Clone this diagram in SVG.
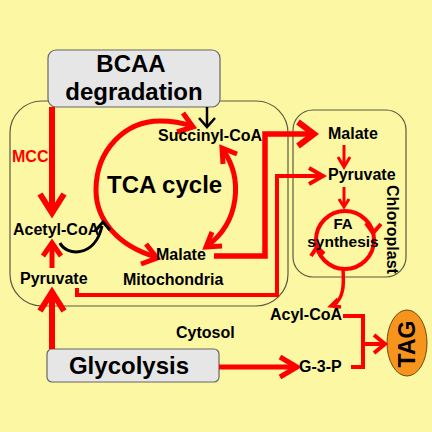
<svg xmlns="http://www.w3.org/2000/svg" width="432" height="432" viewBox="0 0 432 432">
<style>
text{font-family:"Liberation Sans",Arial,sans-serif;font-weight:bold;fill:#000}
.big{font-size:24px}
.lbl{font-size:16px}
.comp{fill:none;stroke:#5a5a40;stroke-width:1.2}
.box{fill:#e6e6e6;stroke:#666;stroke-width:1.2}
.r{fill:none;stroke:#ff0000;stroke-linejoin:miter}
.k{fill:none;stroke:#000;stroke-linejoin:miter}
</style>
<rect width="432" height="432" fill="#fbf7a3"/>
<g id="mitochondria">
<rect class="comp" x="10" y="101" width="278" height="205" rx="32"/>
<text class="lbl" x="123" y="285">Mitochondria</text>
</g>
<g id="chloroplast">
<rect class="comp" x="293" y="110" width="113" height="167" rx="20"/>
<text class="lbl" transform="translate(387,185) rotate(90)">Chloroplast</text>
</g>
<g id="cytosol"><text class="lbl" x="176" y="338">Cytosol</text></g>
<g id="bcaa">
<rect class="box" x="48" y="50" width="172" height="57" rx="8"/>
<text class="big" x="131" y="72" text-anchor="middle">BCAA</text>
<text class="big" x="134" y="100" text-anchor="middle">degradation</text>
</g>
<g id="glycolysis">
<rect class="box" x="47" y="349" width="172" height="33" rx="5"/>
<text class="big" x="129" y="374" text-anchor="middle">Glycolysis</text>
</g>
<g id="tag">
<ellipse cx="407" cy="343" rx="20" ry="33" fill="#f7941d" stroke="#6b4a10" stroke-width="1"/>
<text transform="translate(415,344) rotate(-90)" text-anchor="middle" style="font-size:23px">TAG</text>
</g>
<g id="connectors">
<line class="r" x1="52" y1="107" x2="52" y2="212" stroke-width="6"/>
<polyline class="r" points="40,194 52,213 64,194" stroke-width="6"/>
<line class="r" x1="52" y1="268" x2="52" y2="244" stroke-width="5"/>
<polyline class="r" points="43,256 52,243 61,256" stroke-width="5"/>
<line class="r" x1="52" y1="349" x2="52" y2="293" stroke-width="6"/>
<polyline class="r" points="40,311 52,292 64,311" stroke-width="6"/>
<line class="r" x1="219" y1="367" x2="296" y2="367" stroke-width="5"/>
<polyline class="r" points="280,357 297,367 280,377" stroke-width="5"/>
<polyline class="r" points="343,316 363,316 363,367 351,367" stroke-width="4"/>
<line class="r" x1="363" y1="344" x2="384" y2="344" stroke-width="4"/>
<polyline class="r" points="374,335 385,344 374,353" stroke-width="4"/>
<path class="r" d="M343,269 C344,285 344,298 333,306" stroke-width="3.5"/>
<polyline class="r" points="338,299 331,306 341,307" stroke-width="3.5"/>
<circle class="r" cx="345" cy="240" r="29" stroke-width="4"/>
<polyline class="r" points="366,223 373,233 381,224" stroke-width="4"/>
<polyline class="r" points="311,256 317,247 324,254" stroke-width="4"/>
<line class="r" x1="344" y1="187" x2="344" y2="205" stroke-width="3"/>
<polyline class="r" points="339,199 344,207 349,199" stroke-width="3"/>
<line class="r" x1="344" y1="145" x2="344" y2="165" stroke-width="3"/>
<polyline class="r" points="338,157 344,167 350,157" stroke-width="3"/>
<polyline class="r" points="214,256 265,256 265,134 312,134" stroke-width="5.5"/>
<polyline class="r" points="298,122 314,134 298,146" stroke-width="6"/>
<polyline class="r" points="77,288 77,295 277,295 277,176 321,176" stroke-width="4"/>
<polyline class="r" points="309,168 323,176 309,184" stroke-width="4"/>
<path class="r" d="M156,257 C118,246 96,220 96,190 C96,150 125,121 160,121 C172,121 183,123 192,126" stroke-width="5"/>
<polyline class="r" points="146,244 157,258 141,264" stroke-width="5"/>
<polyline class="r" points="183,113 193,127 177,132" stroke-width="5"/>
<path class="r" d="M223,150 C243,178 240,222 207,246" stroke-width="5"/>
<polyline class="r" points="237,154 222,148 223,164" stroke-width="5"/>
<polyline class="r" points="222,246 206,247 212,232" stroke-width="5"/>
<path class="k" d="M60,243 C66,256 95,258 102,226" stroke-width="3"/>
<polyline class="k" points="95,231 103,222 110,230" stroke-width="3"/>
<line class="k" x1="207" y1="107" x2="207" y2="126" stroke-width="2.5"/>
<polyline class="k" points="199,118 207,127 215,118" stroke-width="2.5"/>
</g>
<g id="tca"><text class="big" x="107" y="193">TCA cycle</text></g>
<g id="succinyl"><text class="lbl" x="158" y="141">Succinyl-CoA</text></g>
<g id="malate-mito"><text class="lbl" x="156" y="260">Malate</text></g>
<g id="acetyl"><text class="lbl" x="13" y="235">Acetyl-CoA</text></g>
<g id="pyruvate-mito"><text class="lbl" x="20" y="284">Pyruvate</text></g>
<g id="mcc"><text class="lbl" x="12" y="162" style="fill:#ff0000">MCC</text></g>
<g id="malate-chl"><text class="lbl" x="328" y="139">Malate</text></g>
<g id="pyruvate-chl"><text class="lbl" x="328" y="180">Pyruvate</text></g>
<g id="fa"><text x="343" y="229" text-anchor="middle" style="font-size:15px">FA</text><text x="343" y="247" text-anchor="middle" style="font-size:15.5px">synthesis</text></g>
<g id="acyl"><text class="lbl" x="270" y="320">Acyl-CoA</text></g>
<g id="g3p"><text class="lbl" x="299" y="372">G-3-P</text></g>
</svg>
